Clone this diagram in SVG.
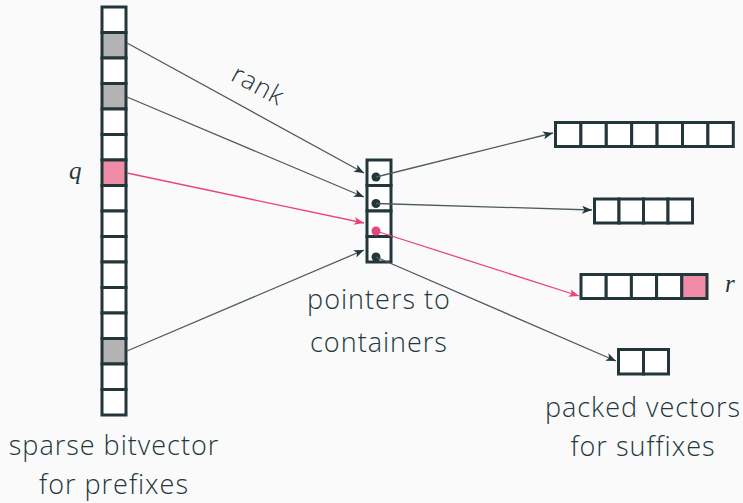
<svg xmlns="http://www.w3.org/2000/svg" width="743" height="503" viewBox="0 0 743 503">
<defs>
<style>
.cell{fill:#ffffff;stroke:#23373b;stroke-width:3}
.gray{fill:#b3b3b3}
.pink{fill:#f08ca8}
.ln{stroke:#4d5c5e;stroke-width:1.3;fill:none}
.pl{stroke:#e8457a;stroke-width:1.3;fill:none}
.lbl{font-family:"Open Sans","DejaVu Sans",sans-serif;font-weight:300;font-size:27px;letter-spacing:1px;fill:#23373b;text-anchor:middle}
.it{font-family:"Liberation Serif",serif;font-style:italic;font-size:25px;fill:#23373b}
</style>
<marker id="ah" viewBox="0 0 10 8" refX="10" refY="4" markerWidth="10" markerHeight="8" markerUnits="userSpaceOnUse" orient="auto"><path d="M0,0 L10,4 L0,8 L2.5,4 z" fill="#23373b"/></marker>
<marker id="ap" viewBox="0 0 10 8" refX="10" refY="4" markerWidth="10" markerHeight="8" markerUnits="userSpaceOnUse" orient="auto"><path d="M0,0 L10,4 L0,8 L2.5,4 z" fill="#e8457a"/></marker>
</defs>
<rect width="743" height="503" fill="#fafafa"/>
<g id="bitvector">
<rect class="cell" x="102" y="7" width="24" height="25.5"/>
<rect class="cell gray" x="102" y="32.5" width="24" height="25.5"/>
<rect class="cell" x="102" y="58" width="24" height="25.5"/>
<rect class="cell gray" x="102" y="83.5" width="24" height="25.5"/>
<rect class="cell" x="102" y="109" width="24" height="25.5"/>
<rect class="cell" x="102" y="134.5" width="24" height="25.5"/>
<rect class="cell pink" x="102" y="160" width="24" height="25.5"/>
<rect class="cell" x="102" y="185.5" width="24" height="25.5"/>
<rect class="cell" x="102" y="211" width="24" height="25.5"/>
<rect class="cell" x="102" y="236.5" width="24" height="25.5"/>
<rect class="cell" x="102" y="262" width="24" height="25.5"/>
<rect class="cell" x="102" y="287.5" width="24" height="25.5"/>
<rect class="cell" x="102" y="313" width="24" height="25.5"/>
<rect class="cell gray" x="102" y="338.5" width="24" height="25.5"/>
<rect class="cell" x="102" y="364" width="24" height="25.5"/>
<rect class="cell" x="102" y="389.5" width="24" height="25.5"/>
<text class="it" x="69" y="179">q</text>
<text class="lbl" x="114" y="455">sparse bitvector</text>
<text class="lbl" x="114" y="494">for prefixes</text>
</g>
<g id="pointers">
<rect class="cell" x="367" y="160" width="24" height="25.5"/>
<rect class="cell" x="367" y="185.5" width="24" height="25.5"/>
<rect class="cell" x="367" y="211" width="24" height="25.5"/>
<rect class="cell" x="367" y="236.5" width="24" height="25.5"/>
<circle cx="376" cy="177" r="4.5" fill="#23373b"/>
<circle cx="376" cy="203.5" r="4.5" fill="#23373b"/>
<circle cx="376" cy="231" r="4.5" fill="#e8457a"/>
<circle cx="376" cy="257" r="4.5" fill="#23373b"/>
<text class="lbl" x="379" y="309">pointers to</text>
<text class="lbl" x="379" y="352">containers</text>
</g>
<g id="vec1">
<rect class="cell" x="555.5" y="122.5" width="25.4" height="24"/>
<rect class="cell" x="580.9" y="122.5" width="25.4" height="24"/>
<rect class="cell" x="606.3" y="122.5" width="25.4" height="24"/>
<rect class="cell" x="631.7" y="122.5" width="25.4" height="24"/>
<rect class="cell" x="657.1" y="122.5" width="25.4" height="24"/>
<rect class="cell" x="682.5" y="122.5" width="25.4" height="24"/>
<rect class="cell" x="707.9" y="122.5" width="25.4" height="24"/>
</g>
<g id="vec2">
<rect class="cell" x="594.5" y="199" width="24.5" height="24"/>
<rect class="cell" x="619" y="199" width="24.5" height="24"/>
<rect class="cell" x="643.5" y="199" width="24.5" height="24"/>
<rect class="cell" x="668" y="199" width="24.5" height="24"/>
</g>
<g id="vec3">
<rect class="cell" x="581" y="274.5" width="25.2" height="24"/>
<rect class="cell" x="606.2" y="274.5" width="25.2" height="24"/>
<rect class="cell" x="631.4" y="274.5" width="25.2" height="24"/>
<rect class="cell" x="656.6" y="274.5" width="25.2" height="24"/>
<rect class="cell pink" x="681.8" y="274.5" width="25.2" height="24"/>
<text class="it" x="725" y="292">r</text>
</g>
<g id="vec4">
<rect class="cell" x="618.5" y="349.5" width="25" height="24.5"/>
<rect class="cell" x="643.5" y="349.5" width="25" height="24.5"/>
<text class="lbl" x="643" y="417">packed vectors</text>
<text class="lbl" x="643" y="456">for suffixes</text>
</g>
<g id="connectors">
<line class="ln" x1="127" y1="43" x2="364" y2="173" marker-end="url(#ah)"/>
<line class="ln" x1="127" y1="97" x2="364" y2="197" marker-end="url(#ah)"/>
<line class="pl" x1="127" y1="173" x2="364" y2="223" marker-end="url(#ap)"/>
<line class="ln" x1="127" y1="351" x2="364" y2="250" marker-end="url(#ah)"/>
<line class="ln" x1="376" y1="177" x2="553" y2="133" marker-end="url(#ah)"/>
<line class="ln" x1="376" y1="203.5" x2="592" y2="210" marker-end="url(#ah)"/>
<line class="pl" x1="376" y1="231" x2="579" y2="296" marker-end="url(#ap)"/>
<line class="ln" x1="376" y1="257" x2="616" y2="361" marker-end="url(#ah)"/>
<text x="254" y="93" transform="rotate(28.5 254 93)" style="font-family:'Open Sans','DejaVu Sans',sans-serif;font-weight:300;font-size:26px;letter-spacing:1px;fill:#23373b;text-anchor:middle">rank</text>
</g>
</svg>
